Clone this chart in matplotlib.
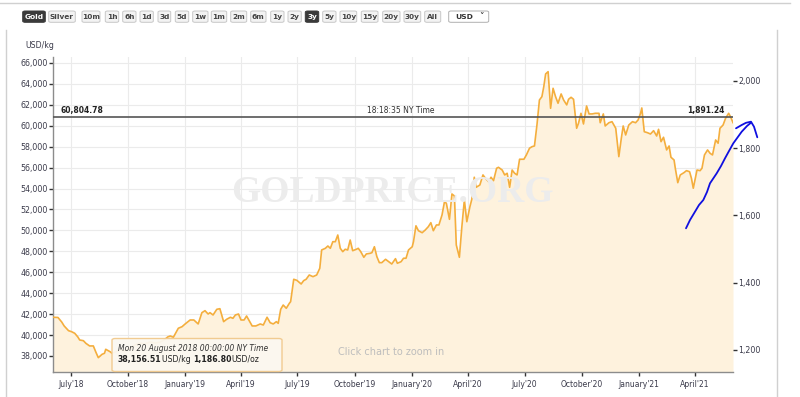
import matplotlib
matplotlib.use("Agg")
import matplotlib.pyplot as plt
from matplotlib.patches import FancyBboxPatch
from matplotlib.lines import Line2D
import pandas as pd

# gold price, USD per kg
dates = [
    "2018-06-02", "2018-06-10", "2018-06-16", "2018-06-20", "2018-06-27", "2018-07-02", "2018-07-07",
    "2018-07-12", "2018-07-15", "2018-07-21", "2018-07-25", "2018-07-31", "2018-08-06", "2018-08-10",
    "2018-08-14", "2018-08-20", "2018-08-24", "2018-08-26", "2018-09-02", "2018-09-05", "2018-09-10",
    "2018-09-18", "2018-09-26", "2018-10-04", "2018-10-12", "2018-10-20", "2018-10-28", "2018-11-05",
    "2018-11-14", "2018-11-22", "2018-11-28", "2018-12-04", "2018-12-08", "2018-12-13", "2018-12-21",
    "2018-12-27", "2019-01-01", "2019-01-09", "2019-01-15", "2019-01-22", "2019-01-28", "2019-02-02",
    "2019-02-07", "2019-02-10", "2019-02-15", "2019-02-21", "2019-02-26", "2019-03-04", "2019-03-09",
    "2019-03-15", "2019-03-19", "2019-03-23", "2019-03-28", "2019-04-01", "2019-04-06", "2019-04-10",
    "2019-04-19", "2019-04-25", "2019-05-02", "2019-05-07", "2019-05-13", "2019-05-18", "2019-05-23",
    "2019-05-28", "2019-05-31", "2019-06-04", "2019-06-08", "2019-06-13", "2019-06-18", "2019-06-20",
    "2019-06-25", "2019-06-30", "2019-07-07", "2019-07-11", "2019-07-15", "2019-07-20", "2019-07-26",
    "2019-08-01", "2019-08-06", "2019-08-09", "2019-08-15", "2019-08-19", "2019-08-23", "2019-08-27",
    "2019-08-31", "2019-09-04", "2019-09-08", "2019-09-12", "2019-09-16", "2019-09-20", "2019-09-24",
    "2019-09-28", "2019-10-04", "2019-10-07", "2019-10-11", "2019-10-16", "2019-10-20", "2019-10-26",
    "2019-10-29", "2019-11-02", "2019-11-06", "2019-11-10", "2019-11-14", "2019-11-20", "2019-11-25",
    "2019-11-30", "2019-12-06", "2019-12-09", "2019-12-15", "2019-12-19", "2019-12-23", "2019-12-27",
    "2020-01-02", "2020-01-04", "2020-01-08", "2020-01-12", "2020-01-18", "2020-01-23", "2020-01-28",
    "2020-02-01", "2020-02-05", "2020-02-10", "2020-02-14", "2020-02-19", "2020-02-23", "2020-02-26",
    "2020-03-02", "2020-03-06", "2020-03-10", "2020-03-13", "2020-03-18", "2020-03-22", "2020-03-26",
    "2020-03-30", "2020-04-04", "2020-04-07", "2020-04-11", "2020-04-14", "2020-04-20", "2020-04-25",
    "2020-04-29", "2020-05-04", "2020-05-08", "2020-05-12", "2020-05-17", "2020-05-20", "2020-05-26",
    "2020-05-30", "2020-06-03", "2020-06-07", "2020-06-11", "2020-06-15", "2020-06-19", "2020-06-23",
    "2020-06-30", "2020-07-04", "2020-07-09", "2020-07-13", "2020-07-17", "2020-07-21", "2020-07-25",
    "2020-07-29", "2020-08-01", "2020-08-04", "2020-08-08", "2020-08-12", "2020-08-16", "2020-08-20",
    "2020-08-24", "2020-08-29", "2020-09-02", "2020-09-07", "2020-09-10", "2020-09-14", "2020-09-18",
    "2020-09-23", "2020-09-26", "2020-09-30", "2020-10-04", "2020-10-09", "2020-10-13", "2020-10-18",
    "2020-10-23", "2020-10-29", "2020-10-31", "2020-11-05", "2020-11-08", "2020-11-14", "2020-11-19",
    "2020-11-25", "2020-11-27", "2020-11-30", "2020-12-04", "2020-12-07", "2020-12-11", "2020-12-16",
    "2020-12-22", "2020-12-27", "2020-12-31", "2021-01-04", "2021-01-06", "2021-01-10", "2021-01-15",
    "2021-01-20", "2021-01-25", "2021-01-30", "2021-02-02", "2021-02-06", "2021-02-10", "2021-02-15",
    "2021-02-19", "2021-02-22", "2021-02-27", "2021-03-01", "2021-03-05", "2021-03-09", "2021-03-15",
    "2021-03-19", "2021-03-24", "2021-03-27", "2021-03-30", "2021-04-03", "2021-04-05", "2021-04-10",
    "2021-04-13", "2021-04-17", "2021-04-22", "2021-04-26", "2021-04-30", "2021-05-05", "2021-05-09",
    "2021-05-12", "2021-05-17", "2021-05-21", "2021-05-26", "2021-05-29", "2021-06-02",
]
usd_kg = [
    41700, 41680, 41250, 40870, 40420, 40320, 40170,
    39820, 39530, 39460, 39210, 38960, 38960, 38380,
    37840, 38157, 38260, 38640, 38410, 38260, 38380,
    38570, 38480, 38760, 39050, 39240, 39150, 39340,
    39240, 39340, 39530, 39820, 39910, 39790, 40650,
    40800, 41060, 41440, 41440, 41060, 42140, 42330,
    42010, 42140, 41920, 42460, 42520, 41280, 41510,
    41700, 41600, 41920, 42010, 41440, 41440, 41820,
    40870, 40870, 41060, 40960, 41700, 41180, 41060,
    41280, 41120, 42460, 42870, 42560, 43040, 43190,
    45330, 45230, 44880, 45200, 45330, 45740, 45580,
    45740, 46380, 48130, 48290, 48510, 48290, 48920,
    48920, 49560, 48290, 47970, 48200, 48130, 49080,
    48060, 48200, 48290, 47970, 47430, 47750, 47810,
    47870, 48440, 47490, 46920, 46920, 47240, 47010,
    46790, 47300, 46860, 47010, 47340, 47340, 48130,
    48440, 48920, 50440, 49970, 49780, 50040, 50360,
    50740, 49970, 50520, 50520, 51470, 52750, 52590,
    51060, 53480, 53290, 48610, 47430, 50360, 52910,
    50830, 52270, 52970, 55080, 54120, 54340, 55300,
    54980, 54660, 55080, 54750, 55940, 56030, 55770,
    55300, 55460, 54120, 55770, 55460, 55300, 56800,
    56800, 57210, 57850, 58000, 58070, 60070, 62460,
    62780, 63730, 64950, 65170, 61670, 63580, 62780,
    62150, 63040, 62460, 61990, 62530, 62720, 62530,
    59760, 60240, 61190, 60170, 61890, 61130, 61130,
    61190, 61190, 60290, 61130, 59980, 60290, 60390,
    59760, 58640, 57050, 58800, 59980, 59120, 60070,
    60390, 60290, 60550, 61190, 61700, 59430, 59340,
    59210, 59530, 59020, 59660, 58480, 58900, 57690,
    58070, 56990, 56730, 55940, 54560, 55300, 55520,
    55710, 55610, 54980, 54030, 55200, 55770, 55710,
    55940, 57210, 57690, 57370, 57210, 58640, 58330,
    59760, 60070, 60710, 61190, 60870, 60300,
]

current_kg = 60804.78
current_oz = 1891.24
current_time = "18:18:35 NY Time"
kg_per_oz = 32.1507

xtick_dates = ["2018-07-01", "2018-10-01", "2019-01-01", "2019-04-01", "2019-07-01", "2019-10-01",
               "2020-01-01", "2020-04-01", "2020-07-01", "2020-10-01", "2021-01-01", "2021-04-01"]
xtick_labels = ["July'18", "October'18", "January'19", "April'19", "July'19", "October'19",
                "January'20", "April'20", "July'20", "October'20", "January'21", "April'21"]
left_ticks = list(range(38000, 66001, 2000))
right_ticks = [1200, 1400, 1600, 1800, 2000]

buttons = ["Gold", "Silver", "10m", "1h", "6h", "1d", "3d", "5d", "1w", "1m", "2m", "6m",
           "1y", "2y", "3y", "5y", "10y", "15y", "20y", "30y", "All"]
selected = ["Gold", "3y"]
button_x = [22.7, 48.7, 82, 105.3, 122.7, 140, 158, 175.3, 192.7, 211.3, 230.7, 250.7,
            270.7, 288, 305.3, 322.7, 340, 361.3, 382.7, 404, 424.7]
button_w = [22.6, 26.6, 18, 13.4, 13.3, 13.3, 12.7, 13.4, 15.3, 15.4, 16, 15.3,
            13.3, 13.3, 13.4, 13.3, 16.7, 16.7, 17.3, 16.7, 16]

tip_date = "Mon 20 August 2018 00:00:00 NY Time"
tip_kg = 38156.51
tip_oz = 1186.80

line_col = "#f4ae3d"
fill_col = "#fef2dd"
W, H = 800, 397

x = pd.to_datetime(dates)
fig = plt.figure(figsize=(W / 100, H / 100), dpi=100)
fig.patch.set_facecolor("white")

def fx(px):
    return px / W

def fy(py):
    return 1 - py / H

ax = fig.add_axes([fx(53), fy(372), fx(733) - fx(53), fy(57) - fy(372)])
ymin, ymax = 36470, 66570
ax.set_xlim(pd.Timestamp("2018-06-02"), pd.Timestamp("2021-06-02"))
ax.set_ylim(ymin, ymax)
ax.fill_between(x, usd_kg, ymin, color=fill_col, lw=0, zorder=1)
ax.plot(x, usd_kg, color=line_col, lw=1.2, zorder=3, solid_joinstyle="round")

ax.set_yticks(left_ticks)
ax.set_yticklabels([f"{v:,}" for v in left_ticks])
ax.set_xticks(pd.to_datetime(xtick_dates))
ax.set_xticklabels(xtick_labels)
ax.grid(True, color="#ebebeb", lw=0.8, zorder=0)
ax.set_axisbelow(True)
for s in ["top", "right"]:
    ax.spines[s].set_visible(False)
for s in ["left", "bottom"]:
    ax.spines[s].set_color("#8c8c8c")
    ax.spines[s].set_linewidth(1.0)
ax.tick_params(axis="y", length=3, width=1, color="#333333", labelsize=5.7, labelcolor="#3a3a4a", pad=1)
ax.tick_params(axis="x", length=3, width=1, color="#333333", labelsize=5.5, labelcolor="#3a3a4a", pad=3)

ax2 = ax.twinx()
ax2.set_ylim(ymin / kg_per_oz, ymax / kg_per_oz)
ax2.set_yticks(right_ticks)
ax2.set_yticklabels([f"{v:,}" for v in right_ticks])
for s in ax2.spines.values():
    s.set_visible(False)
ax2.tick_params(axis="y", length=3, width=1, color="#333333", labelsize=5.7, labelcolor="#3a3a4a", pad=1)

# current price line
ax.axhline(current_kg, color="#555555", lw=1.2, zorder=4)
ax.annotate(f"{current_kg:,.2f}", xy=(0.011, current_kg), xycoords=("axes fraction", "data"),
            xytext=(0, 2), textcoords="offset points", fontsize=5.5, fontweight="bold",
            color="#222222", ha="left", va="bottom", zorder=5)
ax.annotate(current_time, xy=(0.511, current_kg), xycoords=("axes fraction", "data"),
            xytext=(0, 2), textcoords="offset points", fontsize=5.5,
            color="#333333", ha="center", va="bottom", zorder=5)
ax.annotate(f"{current_oz:,.2f}", xy=(0.988, current_kg), xycoords=("axes fraction", "data"),
            xytext=(0, 2), textcoords="offset points", fontsize=5.5, fontweight="bold",
            color="#222222", ha="right", va="bottom", zorder=5)

# watermark / hint
fig.text(fx(392), fy(193), "GOLDPRICE.ORG", family="Liberation Serif", fontsize=27,
         fontweight="bold", color="#ececec", ha="center", va="center", zorder=2)
fig.text(fx(391), fy(352), "Click chart to zoom in", fontsize=7, color="#bdbdbd",
         ha="center", va="center")
fig.text(fx(25), fy(45), "USD/kg", fontsize=5.7, color="#3a3a4a", ha="left", va="center")

# frame of the widget
fig.add_artist(Line2D([fx(0), fx(790)], [fy(2.5), fy(2.5)], color="#d0d0d0", lw=1))
fig.add_artist(Line2D([fx(6), fx(6)], [fy(30), 0], color="#d0d0d0", lw=1))
fig.add_artist(Line2D([fx(777), fx(777)], [fy(30), 0], color="#d0d0d0", lw=1))

# range buttons
for lab, bx, bw in zip(buttons, button_x, button_w):
    on = lab in selected
    fig.add_artist(FancyBboxPatch((fx(bx), fy(22.3)), fx(bw), fy(11) - fy(22.3),
                                  boxstyle="round,pad=0,rounding_size=0.003",
                                  fc="#3a3a3a" if on else "#f3f3f3",
                                  ec="#3a3a3a" if on else "#c8c8c8", lw=0.7))
    fig.text(fx(bx + bw / 2), fy(16.8), lab, fontsize=5.3, fontweight="bold",
             color="white" if on else "#444444", ha="center", va="center")
fig.add_artist(FancyBboxPatch((fx(448.7), fy(22.3)), fx(40), fy(11) - fy(22.3),
                              boxstyle="round,pad=0,rounding_size=0.003",
                              fc="white", ec="#b0b0b0", lw=0.7))
fig.text(fx(455), fy(16.8), "USD", fontsize=5.4, fontweight="bold", color="#333333",
         ha="left", va="center")
fig.text(fx(481), fy(16.8), "\u02c5", fontsize=6.5, fontweight="bold", color="#333333",
         ha="center", va="center")

# tooltip
fig.add_artist(FancyBboxPatch((fx(112), fy(371.5)), fx(170), fy(338.5) - fy(371.5),
                              boxstyle="round,pad=0,rounding_size=0.004",
                              fc="#fbf8f1", ec="#f1c98c", lw=1.0, alpha=0.95, zorder=6))
fig.text(fx(118), fy(348.5), tip_date, fontsize=5.5, style="italic", color="#333333",
         ha="left", va="center", zorder=7)
renderer = fig.canvas.get_renderer()
cur = fx(118)
for txt, bold in [(f"{tip_kg:,.2f}", True), ("USD/kg ", False),
                  (f"{tip_oz:,.2f}", True), ("USD/oz", False)]:
    t = fig.text(cur, fy(359.5), txt, fontsize=5.6, fontweight="bold" if bold else "normal",
                 color="#222222", ha="left", va="center", zorder=7)
    bb = t.get_window_extent(renderer)
    cur += bb.width / W

# hand-drawn blue arrow over the screenshot
scribble_a = [(686, 228.3), (690, 220), (695, 211.7), (699, 205), (703.3, 200), (707, 192),
              (710, 183.3), (716.7, 173.3), (721, 166), (725, 158.3), (729, 151), (733.3, 143.3),
              (741.7, 131.7), (747, 126), (751, 122.7)]
scribble_b = [(736, 128.3), (741.7, 125), (746, 122.8), (751, 121.7), (754, 126.7), (757.3, 137.3)]
for pts in [scribble_a, scribble_b]:
    fig.add_artist(Line2D([fx(p[0]) for p in pts], [fy(p[1]) for p in pts],
                          color="#1010e0", lw=1.3, solid_capstyle="round", zorder=10))

fig.savefig("out.png", dpi=100)
